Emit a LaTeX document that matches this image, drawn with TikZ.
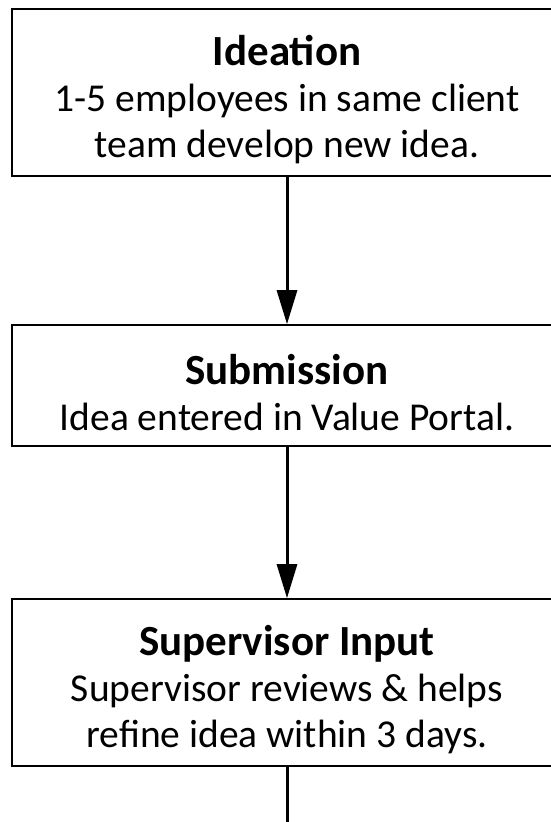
\documentclass[tikz,border=0pt]{standalone}
\usepackage{fontspec}
\setmainfont{Carlito}
\usetikzlibrary{arrows.meta}
\begin{document}
\begin{tikzpicture}[x=1pt, y=-1pt,
    box/.style={draw, line width=1.6pt, rectangle, minimum width=550pt, inner sep=0pt, align=center, font=\fontsize{39.5}{46}\selectfont},
    title/.style={font=\bfseries},
    arrow/.style={-{Triangle[length=34pt,width=20pt]}, line width=3pt}
]
\useasboundingbox (0,0) rectangle (551,822);
\clip (0,0) rectangle (551,822);

% Steps
\node[box, minimum height=167pt] (ideation) at (287,92.5) {\rule{0pt}{44pt}{\fontsize{43}{46}\selectfont\bfseries Ideation}\\1-5 employees in same client\\team develop new idea.};
\node[box, minimum height=121pt] (submission) at (287,385.5) {\rule{0pt}{44pt}{\fontsize{43}{46}\selectfont\bfseries Submission}\\Idea entered in Value Portal.};
\node[box, minimum height=167pt] (supervisor) at (287,682.5) {\rule{0pt}{44pt}{\fontsize{43}{46}\selectfont\bfseries Supervisor Input}\\Supervisor reviews \& helps\\refine idea within 3 days.};

% Arrows
\coordinate (next) at (287,840);
\draw[arrow] (ideation.south) -- (submission.north);
\draw[arrow] (submission.south) -- (supervisor.north);
\draw[line width=3pt] (supervisor.south) -- (next);

\end{tikzpicture}
\end{document}
